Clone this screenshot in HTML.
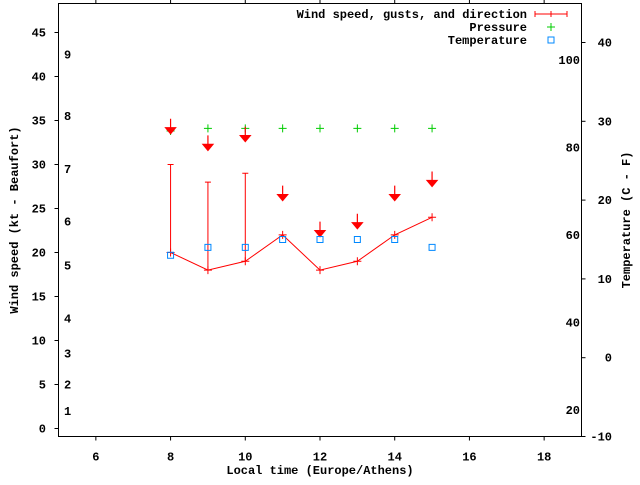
<!DOCTYPE html>
<html><head><meta charset="utf-8"><style>
body{margin:0;background:#fff}
svg text{font-family:"Liberation Mono",monospace;font-weight:bold;font-size:12px;fill:#000}
</style></head><body>
<svg id="chart" width="640" height="480" xmlns="http://www.w3.org/2000/svg">
<rect x="0" y="0" width="640" height="480" fill="#fff"/>
<g id="axes"></g>
<g id="marks"></g>
<g>
<text x="527" y="18" text-anchor="end">Wind speed, gusts, and direction</text>
<line x1="535" y1="14" x2="567" y2="14" stroke="#f00"/>
<line x1="535" y1="11" x2="535" y2="17" stroke="#f00"/><line x1="567" y1="11" x2="567" y2="17" stroke="#f00"/><line x1="551" y1="11" x2="551" y2="17" stroke="#f00"/>
<text x="527" y="31" text-anchor="end">Pressure</text>
<path d="M547 27h8M551 23v8" stroke="#0c0"/>
<text x="527" y="44" text-anchor="end">Temperature</text>
<rect x="548" y="37" width="6" height="6" fill="none" stroke="#08f"/>
</g>
<text x="0" y="0" transform="translate(18,220) rotate(-90)" text-anchor="middle">Wind speed (kt - Beaufort)</text>
<text x="0" y="0" transform="translate(630,220) rotate(-90)" text-anchor="middle">Temperature (C - F)</text>
<text x="320" y="474" text-anchor="middle">Local time (Europe/Athens)</text>
</svg>
<script>
const hours=[8,9,10,11,12,13,14,15];
const windKt=[20,18,19,22,18,19,22,24];
const gustHours=[8,9,10];
const gustKt=[30,28,29];
const dirArrowKt=[33.5,31.6,32.6,25.9,21.8,22.7,25.9,27.5];
const pressureLevel=[33.8,34.1,34.1,34.1,34.1,34.1,34.1,34.1];
const tempC=[13,14,14,15,15,15,15,14];
const xTicks=[6,8,10,12,14,16,18];
const yTicks=[0,5,10,15,20,25,30,35,40,45];
const cTicks=[-10,0,10,20,30,40];
const fTicks=[20,40,60,80,100];
const bftLabels=[1,2,3,4,5,6,7,8,9];
const bftKt=[2,5,8.5,12.5,18.5,23.5,29.5,35.5,42.5];

const L=58.5,R=581.5,T=3.5,B=436.5;
const X=h=>L+(h-5)*(R-L)/14;
const Y=v=>B-(v+0.91)*8.8;
const YC=c=>B-(c+10)*7.88;
const YF=f=>YC((f-32)*5/9);
const NS='http://www.w3.org/2000/svg';
function mk(p,tag,attrs){const e=document.createElementNS(NS,tag);for(const k in attrs)e.setAttribute(k,attrs[k]);p.appendChild(e);return e;}
const ax=document.getElementById('axes'),mg=document.getElementById('marks');
const box=mk(ax,'rect',{x:L,y:T,width:R-L,height:B-T,fill:'none',stroke:'#000'});


xTicks.forEach(h=>{
 mk(ax,'line',{x1:X(h),y1:B,x2:X(h),y2:B+4,stroke:'#000'});
 mk(ax,'line',{x1:X(h),y1:T,x2:X(h),y2:T-4,stroke:'#000'});
 const t=mk(ax,'text',{x:X(h),y:B+24,'text-anchor':'middle'});t.textContent=h;
 
 
});
yTicks.forEach(v=>{
 mk(ax,'line',{x1:L,y1:Y(v),x2:L-4,y2:Y(v),stroke:'#000'});
 const t=mk(ax,'text',{x:46,y:Y(v)+4,'text-anchor':'end'});t.textContent=v;
 
 
});
cTicks.forEach(c=>{
 mk(ax,'line',{x1:R,y1:YC(c),x2:R+4,y2:YC(c),stroke:'#000'});
 const t=mk(ax,'text',{x:612,y:YC(c)+4,'text-anchor':'end'});t.textContent=c;
 
 
});
fTicks.forEach(f=>{
 const t=mk(ax,'text',{x:580,y:YF(f)+4,'text-anchor':'end'});t.textContent=f;
 
 
});
bftLabels.forEach((b,i)=>{
 const t=mk(ax,'text',{x:64,y:Y(bftKt[i])+4});t.textContent=b;
 
 
});
// gusts
gustHours.forEach((h,i)=>{
 const j=hours.indexOf(h);
 const g=mk(mg,'path',{d:`M${X(h)} ${Y(windKt[j])}V${Y(gustKt[i])}M${X(h)-3} ${Y(gustKt[i])}h6`,stroke:'#f00',fill:'none'});
 
 
});
// wind line
const ln=mk(mg,'polyline',{points:hours.map((h,i)=>X(h)+','+Y(windKt[i])).join(' '),fill:'none',stroke:'#f00'});


hours.forEach((h,i)=>{
 const p=mk(mg,'path',{d:`M${X(h)-4} ${Y(windKt[i])}h8M${X(h)} ${Y(windKt[i])-4}v8`,stroke:'#f00'});
 
 
});
// pressure
hours.forEach((h,i)=>{
 const p=mk(mg,'path',{d:`M${X(h)-4} ${Y(pressureLevel[i])}h8M${X(h)} ${Y(pressureLevel[i])-4}v8`,stroke:'#0c0'});
 
 
});
// direction arrows
hours.forEach((h,i)=>{
 const x=X(h),y=Y(dirArrowKt[i]);
 const a=mk(mg,'path',{d:`M${x} ${y-15}V${y-5}M${x-5} ${y-6}H${x+5}L${x} ${y}Z`,stroke:'#f00',fill:'#f00','stroke-width':1.2});
 
 
});
// temperature
hours.forEach((h,i)=>{
 const r=mk(mg,'rect',{x:X(h)-3,y:YC(tempC[i])-3,width:6,height:6,fill:'none',stroke:'#08f'});
 
 
});
</script>
</body></html>
